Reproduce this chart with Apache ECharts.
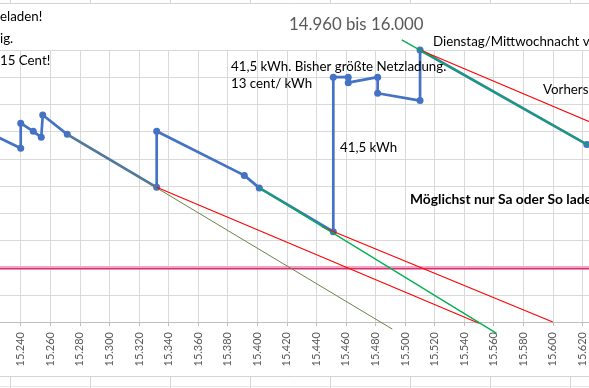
<!DOCTYPE html>
<html>
<head>
<meta charset="utf-8">
<script src="https://cdn.jsdelivr.net/npm/echarts@6/dist/echarts.min.js"></script>
<style>
html,body{margin:0;padding:0;background:#fff;overflow:hidden;width:589px;height:388px;}
#c{position:absolute;left:-60px;top:0;width:709px;height:388px;}
</style>
</head>
<body>
<div id="c"></div>
<script>
// ---- data (km, SoC %) ----
const socKm  = [15215, 15240, 15240, 15248.5, 15253.9, 15254.9, 15271.5, 15332, 15332, 15391.3, 15401.4, 15451.5, 15451.5, 15461.6, 15461.6, 15481.5, 15481.5, 15510.2, 15510.2, 15623, 15660];
const socPct = [70.5, 63.9, 73.1, 70.1, 67.9, 76.1, 69.0, 49.5, 70.1, 53.9, 49.3, 33.2, 90.0, 90.0, 88.0, 90.0, 84.1, 81.4, 100, 65.3, 54];

const oliveKm = [15271.5, 15491.4];  const olivePct = [69.0, -2.6];
const red1Km  = [15332, 15550];      const red1Pct  = [49.5, -0.5];
const red2Km  = [15443.7, 15600];    const red2Pct  = [35.0, 0];
const red3Km  = [15510.2, 15660];    const red3Pct  = [100, 65.5];
const green1Km = [15401.4, 15562];   const green1Pct = [49.3, -4.2];
const green2Km = [15497.8, 15660];   const green2Pct = [103.7, 54.0];
const limitKm = [15150, 15700];      const limitPct = [20, 20];

const xMin = 15200, xMax = 15640, xStep = 20;
const yMin = 0, yMax = 100, yStep = 10;

function pairs(xs, ys){ return xs.map((x,i)=>[x, ys[i]]); }
function fmtKm(v){ const s = String(Math.round(v)); return s.slice(0, s.length-3) + '.' + s.slice(-3); }

const FONT = 'Lato';
const OX = 60; // container is shifted 60px to the left of the window
const chart = echarts.init(document.getElementById('c'), null, {renderer:'canvas'});

function trend(name, xs, ys, color, width){
  return {name, type:'line', data:pairs(xs, ys), symbol:'none', clip:false, z:3,
    lineStyle:{color, width}, silent:true};
}

const sheetLines = [];
const cols = [10, 90, 170, 250, 330, 410, 490, 570];
cols.forEach(x=>{
  sheetLines.push({type:'line', shape:{x1:OX+x+0.5,y1:0,x2:OX+x+0.5,y2:3}, style:{stroke:'#D4D4D4',lineWidth:1}});
  sheetLines.push({type:'line', shape:{x1:OX+x+0.5,y1:376,x2:OX+x+0.5,y2:388}, style:{stroke:'#D4D4D4',lineWidth:1}});
});
sheetLines.push({type:'line', shape:{x1:0,y1:3.5,x2:709,y2:3.5}, style:{stroke:'#D4D4D4',lineWidth:1}});
sheetLines.push({type:'line', shape:{x1:0,y1:376.5,x2:709,y2:376.5}, style:{stroke:'#D4D4D4',lineWidth:1}});
sheetLines.push({type:'line', shape:{x1:0,y1:386.5,x2:709,y2:386.5}, style:{stroke:'#E6E6E6',lineWidth:1}});

function txt(x, y, text, opts){
  opts = opts || {};
  return {type:'text', x:OX + x, y, z:10, style:{text, fill: opts.color || '#000', font: (opts.bold?'bold ':'') + (opts.size||13.3) + 'px ' + FONT, textVerticalAlign:'middle', textAlign:'left'}};
}

chart.setOption({
  animation:false,
  backgroundColor:'#fff',
  grid:{left:21.6, right:37.1, top:50, bottom:66, containLabel:false, outerBoundsMode:'none'},
  xAxis:{type:'value', min:xMin, max:xMax, interval:xStep,
    axisLine:{show:true, onZero:false, lineStyle:{color:'#BFBFBF', width:1}},
    axisTick:{show:true, length:4, lineStyle:{color:'#BFBFBF'}},
    axisLabel:{rotate:90, color:'#595959', fontFamily:FONT, fontSize:11, margin:10, formatter:fmtKm},
    splitLine:{show:true, lineStyle:{color:'#D9D9D9', width:1}}},
  yAxis:{type:'value', min:yMin, max:yMax, interval:yStep,
    axisLine:{show:false}, axisTick:{show:false}, axisLabel:{show:false},
    splitLine:{show:true, lineStyle:{color:'#D9D9D9', width:1}}},
  series:[
    trend('Grenze hell', limitKm, limitPct.map(v=>v+0.25), '#F5A3C4', 2),
    trend('Grenze', limitKm, limitPct.map(v=>v-0.45), '#D2336F', 1.6),
    {name:'SoC', type:'line', data:pairs(socKm, socPct), z:2,
      symbol:'circle', symbolSize:7, itemStyle:{color:'#4472C4'},
      lineStyle:{color:'#4472C4', width:2.7}},
    trend('Prognose olive', oliveKm, olivePct, '#6A8448', 1),
    trend('Prognose rot 1', red1Km, red1Pct, '#FF0000', 1.1),
    trend('Prognose rot 2', red2Km, red2Pct, '#FF0000', 1.1),
    trend('Prognose rot 3', red3Km, red3Pct, '#FF0000', 1.1),
    trend('Prognose grün 1', green1Km, green1Pct, '#00B050', 1.3),
    trend('Prognose grün 2', green2Km, green2Pct, '#00B050', 1.3)
  ],
  graphic: sheetLines.concat([
    txt(0, 17, 'eladen!'),
    txt(0, 39, 'ig.'),
    txt(0, 61, '15 Cent!'),
    txt(289, 25, '14.960 bis 16.000', {size:16.8, color:'#595959'}),
    txt(231, 67, '41,5 kWh. Bisher größte Netzladung.'),
    txt(231, 84, '13 cent/ kWh'),
    txt(340, 148, '41,5 kWh'),
    txt(433, 42, 'Dienstag/Mittwochnacht v'),
    txt(543, 90, 'Vorhers'),
    txt(410, 200, 'Möglichst nur Sa oder So lade', {bold:true, size:13.8})
  ])
});
</script>
</body>
</html>
